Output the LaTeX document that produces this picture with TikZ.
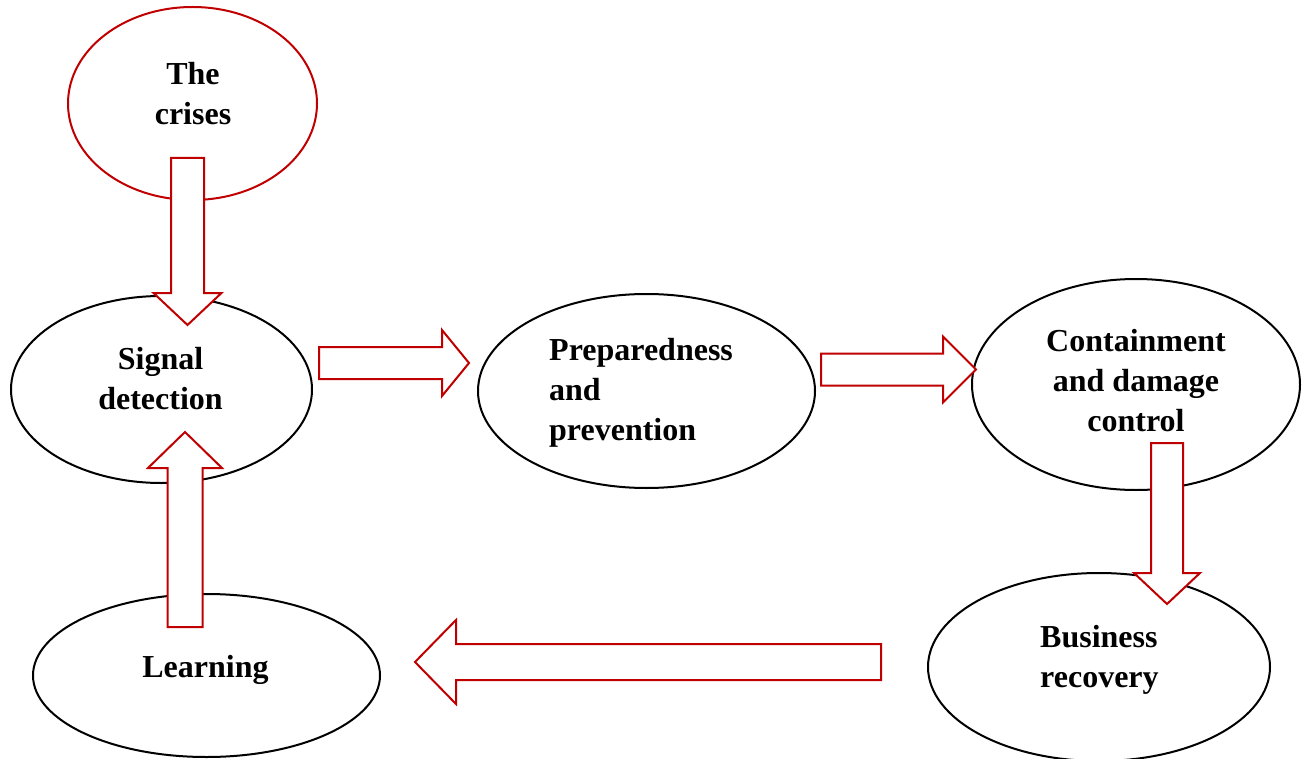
\documentclass[tikz,border=0pt]{standalone}
\usepackage{fontspec}
\setmainfont{Liberation Serif}
\usetikzlibrary{shapes.geometric,calc}
\definecolor{crisisred}{RGB}{192,0,0}
\tikzset{
  phase/.style={draw,ellipse,line width=2pt,inner sep=0pt},
  phasetext/.style={font=\bfseries\fontsize{32}{40}\selectfont,inner sep=0pt,anchor=base,align=center},
  redarrow/.style={draw=crisisred,fill=white,line width=2pt,line join=miter}
}
\newcommand{\redblockarrow}[5]{%
  \coordinate (neck) at ($(#2)!#5pt!(#1)$);
  \draw[redarrow] ($(#1)!#3pt!90:(#2)$) -- ($(neck)!#3pt!90:(#2)$) -- ($(neck)!#4pt!90:(#2)$) -- (#2)
    -- ($(neck)!#4pt!-90:(#2)$) -- ($(neck)!#3pt!-90:(#2)$) -- ($(#1)!#3pt!-90:(#2)$) -- cycle;}
\begin{document}
\begin{tikzpicture}[x=1pt,y=-1pt]
\useasboundingbox (0,0) rectangle (1303,759);
\node[phase,draw=crisisred,minimum width=249,minimum height=193] (crises) at (192.5,103.5) {};
\node[phase,minimum width=301,minimum height=187] (signal) at (161.5,389.5) {};
\node[phase,minimum width=337,minimum height=194] (prep) at (646.5,391) {};
\node[phase,minimum width=328,minimum height=211] (contain) at (1136,384.5) {};
\node[phase,minimum width=342,minimum height=188] (business) at (1099,667) {};
\node[phase,minimum width=347,minimum height=163] (learning) at (206.5,675.5) {};

\node[phasetext] (crises-t) at (193,125) {The\\crises};
\node[phasetext] (signal-t) at (160.5,409) {Signal\\detection};
\node[phasetext,anchor=base west,align=left] (prep-t) at (549,440) {Preparedness\\and\\prevention};
\node[phasetext] (contain-t) at (1136,431) {Containment\\and damage\\control};
\node[phasetext,anchor=base west,align=left] (business-t) at (1040,687) {Business\\recovery};
\node[phasetext] (learning-t) at (205.5,677) {Learning};

\coordinate (c1) at (187.5,158); \coordinate (s1) at (187.5,325);
\coordinate (s2) at (319,363); \coordinate (p1) at (469,363);
\coordinate (p2) at (821,369.5); \coordinate (k1) at (976,369.5);
\coordinate (k2) at (1167,443); \coordinate (b1) at (1167,604);
\coordinate (b2) at (881,662); \coordinate (l1) at (415,662);
\coordinate (l2) at (185,627); \coordinate (s3) at (185,432);

\redblockarrow{c1}{s1}{16.5}{34}{32}
\redblockarrow{s2}{p1}{16}{33}{27}
\redblockarrow{p2}{k1}{16}{33}{33}
\redblockarrow{k2}{b1}{16}{33}{31}
\redblockarrow{b2}{l1}{18}{42}{41}
\redblockarrow{l2}{s3}{17.5}{37}{36}
\end{tikzpicture}
\end{document}
